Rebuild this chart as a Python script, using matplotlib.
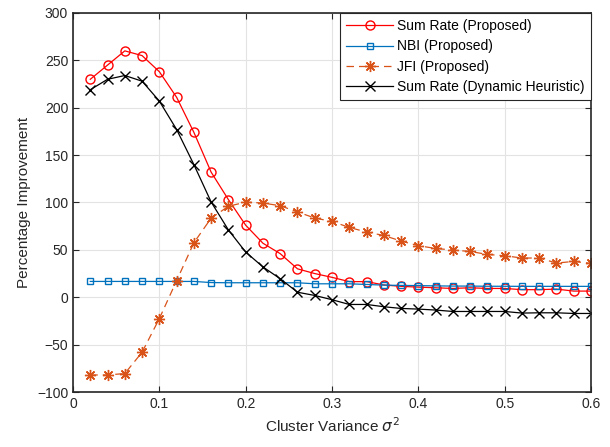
import numpy as np
import matplotlib
matplotlib.use('Agg')
import matplotlib.pyplot as plt

plt.rcParams['font.family'] = ['Liberation Sans', 'DejaVu Sans']

variance = [0.02, 0.04, 0.06, 0.08, 0.10, 0.12, 0.14, 0.16, 0.18, 0.20,
            0.22, 0.24, 0.26, 0.28, 0.30, 0.32, 0.34, 0.36, 0.38, 0.40,
            0.42, 0.44, 0.46, 0.48, 0.50, 0.52, 0.54, 0.56, 0.58, 0.60]

sum_rate_prop = [230, 245, 260, 255, 238, 211, 174, 132, 103, 76,
                 57, 46, 30, 25, 21, 16.5, 16.5, 13, 11.5, 10.7,
                 10, 9.3, 10, 9.3, 9.3, 8, 8, 8.6, 6.5, 6.5]

nbi_prop = [16.7, 16.7, 16.7, 16.7, 16.7, 16.7, 16.7, 15.5, 15.3, 15.3,
            15.3, 15.3, 15.3, 14.2, 14.2, 14.2, 13.5, 12.8, 12.5, 12.3,
            12, 11.8, 11.8, 11.6, 11.6, 11.5, 11.5, 11.5, 11.5, 11.5]

jfi_prop = [-82, -82, -80.5, -58, -22.5, 17.5, 57.5, 83.5, 96, 100.4,
            99.4, 96.6, 90, 83.6, 80, 73.7, 68.8, 65.2, 59.3, 54.4,
            51.5, 49.8, 48.3, 45.2, 43.8, 41.4, 41.4, 36.1, 37.8, 35.7]

sum_rate_heur = [219, 230, 234, 228, 207, 177, 140, 100.5, 71, 47.7,
                 32, 19.5, 5.3, 1.9, -2.6, -7.6, -7.6, -10, -11.8, -12.5,
                 -13.5, -15, -15, -15, -15, -16.7, -16.4, -16.4, -17.1, -17.1]

fig = plt.figure(figsize=(6.1, 4.47), dpi=100)
ax = fig.add_axes([0.1197, 0.123, 0.8492, 0.848])

lw = 0.9
ax.plot(variance, sum_rate_prop, color='#FF0000', marker='o', markersize=6.5,
        markerfacecolor='none', linewidth=lw, label='Sum Rate (Proposed)')
ax.plot(variance, nbi_prop, color='#0072BD', marker='s', markersize=5,
        markerfacecolor='none', linewidth=lw, label='NBI (Proposed)')
ax.plot(variance, jfi_prop, color='#D95319', marker=(8, 2, 0), markersize=8,
        linestyle=(0, (6, 4)), linewidth=lw, label='JFI (Proposed)')
ax.plot(variance, sum_rate_heur, color='black', marker='x', markersize=6.5,
        linewidth=lw, label='Sum Rate (Dynamic Heuristic)')

ax.set_xlim(0, 0.6)
ax.set_ylim(-100, 300)
ax.set_xticks([0, 0.1, 0.2, 0.3, 0.4, 0.5, 0.6])
ax.set_xticklabels(['0', '0.1', '0.2', '0.3', '0.4', '0.5', '0.6'])
ax.set_yticks(np.arange(-100, 301, 50))
ax.grid(True, color='#E3E3E3', linewidth=0.8)
ax.set_axisbelow(True)
ax.tick_params(direction='in', top=True, right=True, labelsize=10,
               length=4, width=0.8, colors='#262626')
for s in ax.spines.values():
    s.set_linewidth(1.2)
    s.set_color('#262626')

ax.set_xlabel('Cluster Variance $\\sigma^2$', fontsize=11, color='#262626')
ax.set_ylabel('Percentage Improvement', fontsize=11, color='#262626')

leg = ax.legend(loc='upper right', fontsize=10, handlelength=3.4,
                borderaxespad=0.0, fancybox=False, edgecolor='#262626',
                labelspacing=0.45, borderpad=0.45, handletextpad=0.3,
                framealpha=1)
leg.get_frame().set_linewidth(0.8)

fig.savefig('out.png', dpi=100)
